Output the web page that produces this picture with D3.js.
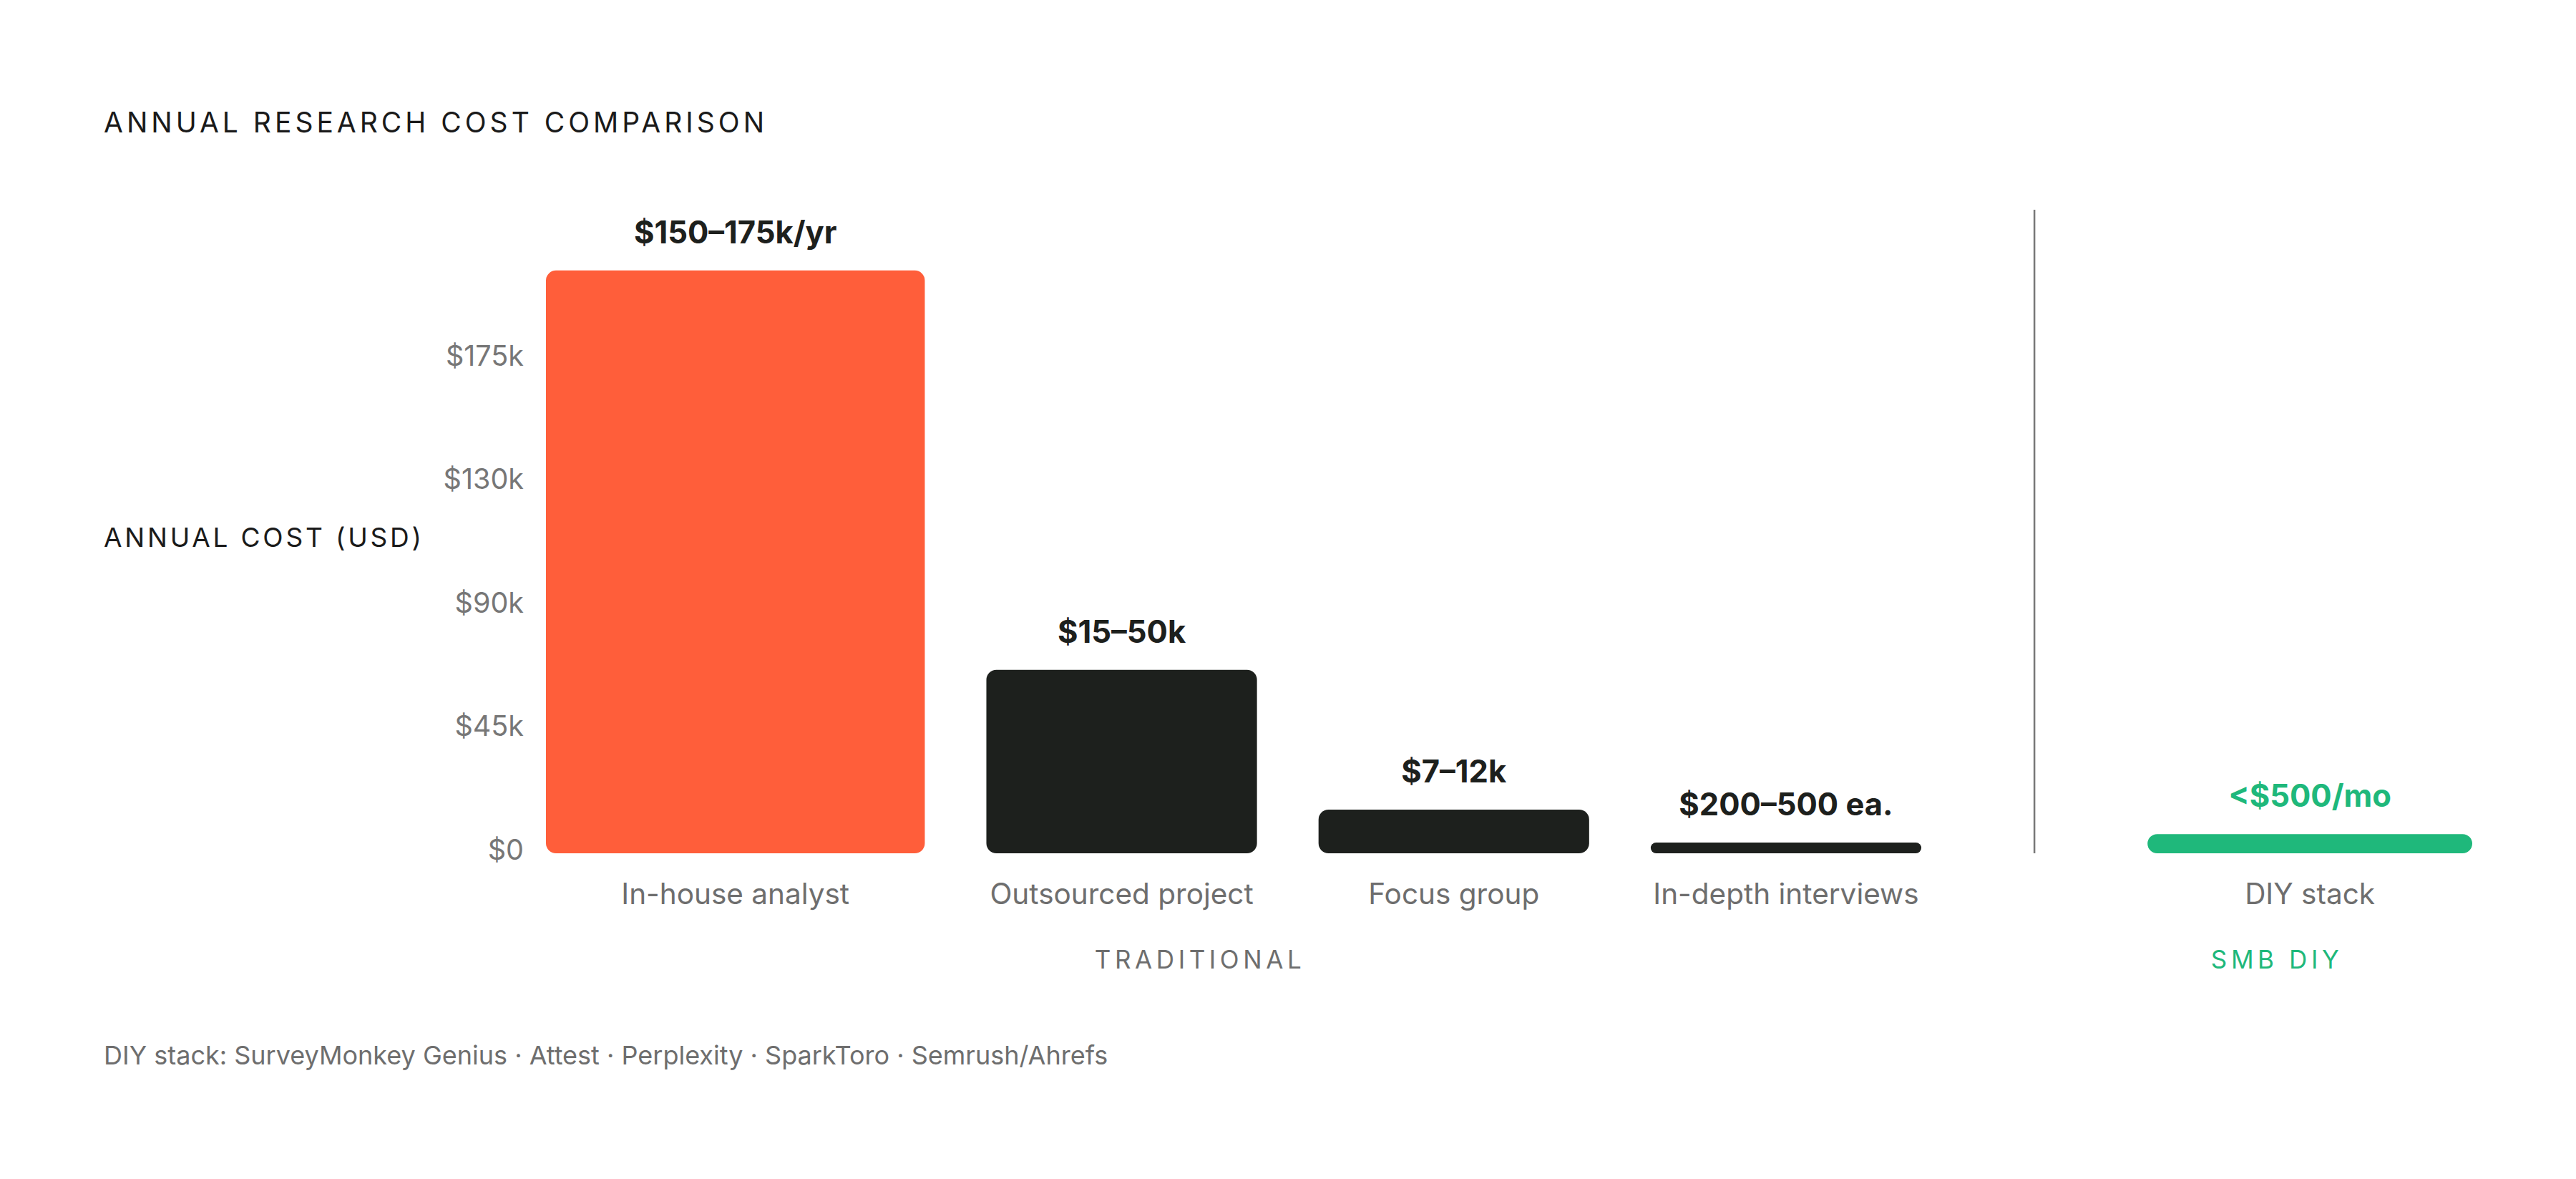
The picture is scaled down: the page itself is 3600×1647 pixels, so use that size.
<!DOCTYPE html>
<html>

<head>
    <title>Annual research cost comparison</title>
    <script src="https://d3js.org/d3.v7.min.js"></script>
    <meta charset="utf-8">
    <style>
        body {
            margin: 0;
            background: #ffffff;
            font-family: 'Inter', 'Noto Sans', sans-serif;
        }
    </style>
</head>

<body>
    <svg width="3600" height="1647"></svg>
    <script>
        // chart data
        var categories = ["In-house analyst", "Outsourced project", "Focus group", "In-depth interviews", "DIY stack"];
        var groupOf = ["TRADITIONAL", "TRADITIONAL", "TRADITIONAL", "TRADITIONAL", "SMB DIY"];
        var barValues = [206.5, 65, 15.5, 3.8, 6.8];   // in $k, as drawn against the axis
        var valueLabels = ["$150–175k/yr", "$15–50k", "$7–12k", "$200–500 ea.", "<$500/mo"];
        var axisMax = 175;
        var tickCount = 4;
        var groups = ["TRADITIONAL", "SMB DIY"];
        var footnote = "DIY stack: SurveyMonkey Genius · Attest · Perplexity · SparkToro · Semrush/Ahrefs";

        // layout / style
        var barFlex = [1.4, 1, 1, 1, 1.2];
        var barGap = 0.2275, groupGap = 0.836;
        var colors = { accent: "#FF5E3A", ink: "#1D201D", green: "#1FB87B", muted: "#6E6E6E" };
        var barColor = ["accent", "ink", "ink", "ink", "green"];

        var svg = d3.select("svg");

        var plotLeft = 763, plotRight = 3455, baseY = 1192, topY = 502;

        // cumulative layout units -> pixels
        var starts = [], pos = 0;
        barFlex.forEach(function (f, i) {
            if (i > 0) pos += (groupOf[i] === groupOf[i - 1]) ? barGap : groupGap;
            starts.push(pos);
            pos += f;
        });
        var x = d3.scaleLinear().domain([0, pos]).range([plotLeft, plotRight]);
        var y = d3.scaleLinear().domain([0, axisMax]).range([baseY, topY]);

        var bars = categories.map(function (c, i) {
            return {
                name: c, group: groupOf[i], value: barValues[i], label: valueLabels[i],
                x0: x(starts[i]), x1: x(starts[i] + barFlex[i]), color: colors[barColor[i]]
            };
        });

        // title
        svg.append("text")
            .attr("x", 145).attr("y", 185)
            .attr("font-size", 39).attr("letter-spacing", 5)
            .attr("fill", "#1a1a1a")
            .text("ANNUAL RESEARCH COST COMPARISON");

        // y axis label
        svg.append("text")
            .attr("x", 145).attr("y", 764)
            .attr("font-size", 37).attr("letter-spacing", 3.8)
            .attr("fill", "#1a1a1a")
            .text("ANNUAL COST (USD)");

        // y axis tick labels (no line, no ticks)
        var tickVals = d3.range(tickCount + 1).map(function (i) { return axisMax * i / tickCount; });
        var yAxis = d3.axisLeft(y)
            .tickValues(tickVals)
            .tickSize(0)
            .tickPadding(0)
            .tickFormat(function (d) { return "$" + (d === 0 ? "0" : Math.round(d / 5) * 5 + "k"); });

        var axisG = svg.append("g")
            .attr("transform", "translate(732,0)")
            .call(yAxis);
        axisG.select(".domain").remove();
        axisG.selectAll("text")
            .attr("font-family", "Inter, 'Noto Sans', sans-serif")
            .attr("font-size", 39.5)
            .attr("fill", "#777777")
            .attr("dy", null)
            .attr("y", 8)
            .attr("dominant-baseline", "auto");

        // bars
        svg.append("g").selectAll("path")
            .data(bars)
            .enter().append("path")
            .attr("fill", function (d) { return d.color; })
            .attr("d", function (d) {
                var top = y(d.value), h = baseY - top, w = d.x1 - d.x0;
                var r = Math.min(14, h / 2, w / 2);
                var p = d3.path();
                p.moveTo(d.x0 + r, top);
                p.lineTo(d.x1 - r, top);
                p.arcTo(d.x1, top, d.x1, top + r, r);
                p.lineTo(d.x1, baseY - r);
                p.arcTo(d.x1, baseY, d.x1 - r, baseY, r);
                p.lineTo(d.x0 + r, baseY);
                p.arcTo(d.x0, baseY, d.x0, baseY - r, r);
                p.lineTo(d.x0, top + r);
                p.arcTo(d.x0, top, d.x0 + r, top, r);
                p.closePath();
                return p.toString();
            });

        // value labels
        svg.append("g").selectAll("text")
            .data(bars)
            .enter().append("text")
            .attr("x", function (d) { return (d.x0 + d.x1) / 2; })
            .attr("y", function (d) { return y(d.value) - 38; })
            .attr("text-anchor", "middle")
            .attr("font-size", 43.5)
            .attr("font-weight", 700)
            .attr("fill", function (d) { return d.group === "SMB DIY" ? colors.green : colors.ink; })
            .text(function (d) { return d.label; });

        // category labels
        svg.append("g").selectAll("text")
            .data(bars)
            .enter().append("text")
            .attr("x", function (d) { return (d.x0 + d.x1) / 2; })
            .attr("y", baseY + 71)
            .attr("text-anchor", "middle")
            .attr("font-size", 40.5)
            .attr("fill", colors.muted)
            .text(function (d) { return d.name; });

        // separator between the groups
        var lastTrad = bars[3], diy = bars[4];
        var sepX = (lastTrad.x1 + diy.x0) / 2;
        svg.append("line")
            .attr("x1", sepX).attr("x2", sepX)
            .attr("y1", 293).attr("y2", baseY)
            .attr("stroke", "#777777")
            .attr("stroke-width", 2.5);

        // group labels
        var groupCenters = {
            "TRADITIONAL": (plotLeft + sepX) / 2 - 126,
            "SMB DIY": (sepX + plotRight) / 2 + 33
        };
        svg.append("g").selectAll("text")
            .data(groups)
            .enter().append("text")
            .attr("x", function (g) { return groupCenters[g]; })
            .attr("y", 1353)
            .attr("text-anchor", "middle")
            .attr("font-size", 35)
            .attr("letter-spacing", 5.6)
            .attr("fill", function (g) { return g === "SMB DIY" ? colors.green : colors.muted; })
            .text(function (g) { return g; });

        // footnote
        svg.append("text")
            .attr("x", 145).attr("y", 1487)
            .attr("font-size", 36)
            .attr("fill", colors.muted)
            .text(footnote);
    </script>
</body>

</html>
